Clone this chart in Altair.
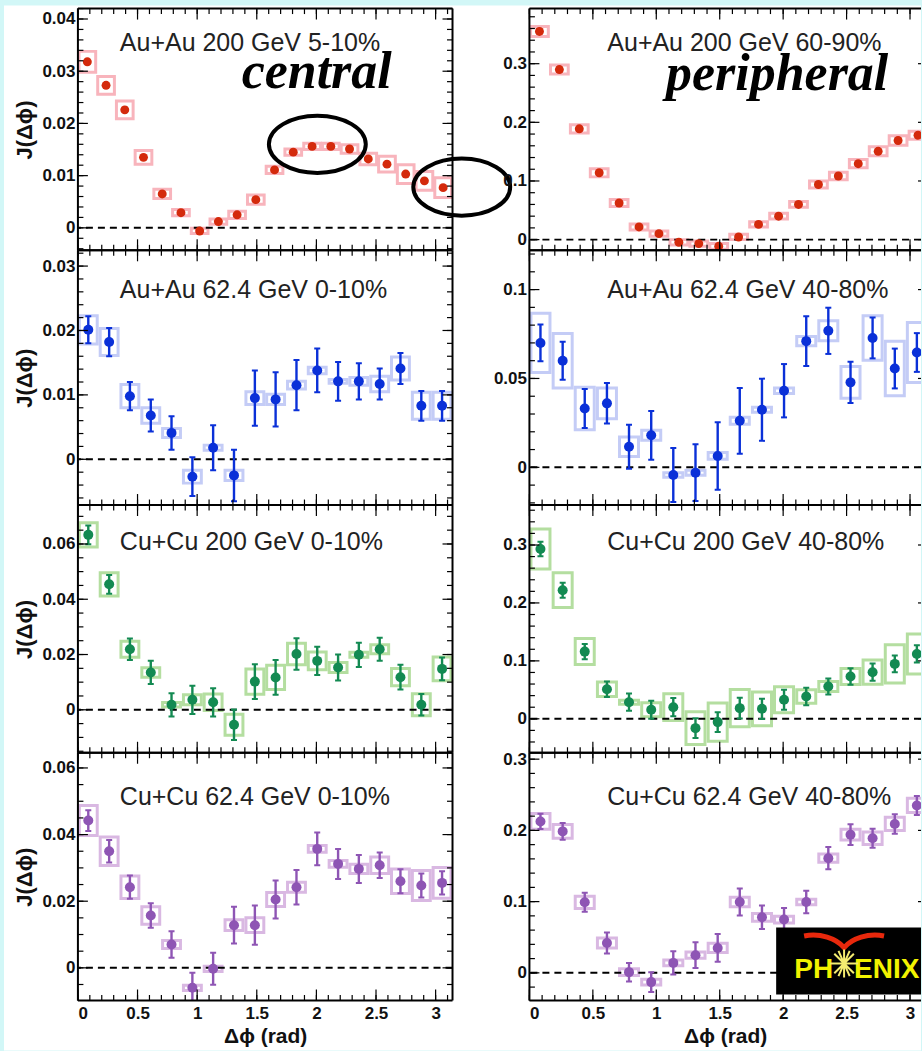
import altair as alt
import numpy as np
import pandas as pd

# ---------------- data ----------------
PHI_20 = [0.079, 0.236, 0.393, 0.550, 0.707, 0.864, 1.021, 1.178, 1.335, 1.492,
          1.649, 1.806, 1.964, 2.121, 2.278, 2.435, 2.592, 2.749, 2.906, 3.063]
PHI_18 = [0.087, 0.262, 0.436, 0.611, 0.785, 0.960, 1.134, 1.309, 1.484, 1.658,
          1.833, 2.007, 2.182, 2.356, 2.531, 2.705, 2.880, 3.054]

# Au+Au 200 GeV 5-10%
AA200C_Y = [0.0318, 0.0273, 0.0226, 0.0135, 0.0065, 0.0029, -0.0006, 0.0012, 0.0025, 0.0054,
            0.0111, 0.0145, 0.0156, 0.0156, 0.0151, 0.0132, 0.0122, 0.0103, 0.0090, 0.0077]
AA200C_STAT = [0.0004, 0.0004, 0.0004, 0.0003, 0.0003, 0.0003, 0.0003, 0.0003, 0.0003, 0.0003,
               0.0003, 0.0003, 0.0003, 0.0003, 0.0003, 0.0003, 0.0003, 0.0003, 0.0003, 0.0003]
AA200C_SYS = [0.0020, 0.0017, 0.0017, 0.0013, 0.0009, 0.0006, 0.0005, 0.0005, 0.0007, 0.0009,
              0.0007, 0.0006, 0.0006, 0.0006, 0.0008, 0.0011, 0.0015, 0.0018, 0.0018, 0.0019]

# Au+Au 200 GeV 60-90%
AA200P_Y = [0.355, 0.290, 0.189, 0.114, 0.0625, 0.0216, 0.0102, -0.0045, -0.0068, -0.0114,
            0.0045, 0.026, 0.040, 0.060, 0.094, 0.1085, 0.1295, 0.1506, 0.169, 0.178]
AA200P_STAT = [0.004, 0.004, 0.003, 0.003, 0.003, 0.003, 0.003, 0.003, 0.003, 0.003,
               0.003, 0.003, 0.003, 0.003, 0.003, 0.003, 0.003, 0.003, 0.003, 0.003]
AA200P_SYS = [0.0085, 0.0077, 0.0070, 0.0070, 0.0060, 0.0050, 0.0045, 0.0045, 0.0045, 0.0050,
              0.0045, 0.0045, 0.0050, 0.0050, 0.0060, 0.0065, 0.0070, 0.0077, 0.0080, 0.0070]

# Au+Au 62.4 GeV 0-10%
AA62C_Y = [0.0201, 0.0182, 0.0098, 0.0068, 0.0041, -0.0027, 0.0018, -0.0025, 0.0095, 0.0093,
           0.0115, 0.0138, 0.0121, 0.0121, 0.0117, 0.0141, 0.0083, 0.0083]
AA62C_STAT = [0.0021, 0.0022, 0.0022, 0.0025, 0.0026, 0.0030, 0.0035, 0.0040, 0.0043, 0.0042,
              0.0039, 0.0034, 0.0030, 0.0028, 0.0024, 0.0024, 0.0023, 0.0023]
AA62C_SYS = [0.0022, 0.0021, 0.0018, 0.0012, 0.0007, 0.0010, 0.0004, 0.0008, 0.0010, 0.0008,
             0.0006, 0.0005, 0.0003, 0.0006, 0.0012, 0.0018, 0.0021, 0.0021]

# Au+Au 62.4 GeV 40-80%
AA62P_Y = [0.070, 0.060, 0.0331, 0.036, 0.0116, 0.018, -0.0043, -0.003, 0.0064, 0.0262,
           0.0324, 0.0431, 0.071, 0.0768, 0.0478, 0.0728, 0.0556, 0.0646]
AA62P_STAT = [0.0103, 0.0107, 0.0110, 0.0114, 0.0124, 0.0137, 0.0152, 0.0160, 0.0190, 0.0185,
              0.0175, 0.0150, 0.0140, 0.0130, 0.0116, 0.0115, 0.0112, 0.0109]
AA62P_SYS = [0.0167, 0.0153, 0.0120, 0.0087, 0.0055, 0.0028, 0.0013, 0.0014, 0.0019, 0.0020,
             0.0014, 0.0015, 0.0026, 0.0056, 0.0089, 0.0125, 0.0153, 0.0169]

# Cu+Cu 200 GeV 0-10%
CC200C_Y = [0.0633, 0.0454, 0.0219, 0.0135, 0.0018, 0.0036, 0.0027, -0.0054, 0.0102, 0.0117,
            0.0202, 0.0177, 0.0153, 0.0199, 0.0219, 0.0118, 0.0018, 0.0148]
CC200C_STAT = [0.0034, 0.0034, 0.0039, 0.0042, 0.0042, 0.0051, 0.0051, 0.0055, 0.0063, 0.0063,
               0.0057, 0.0051, 0.0047, 0.0044, 0.0042, 0.0045, 0.0039, 0.0041]
CC200C_SYS = [0.0044, 0.0042, 0.0029, 0.0017, 0.0008, 0.0018, 0.0030, 0.0038, 0.0046, 0.0044,
              0.0039, 0.0032, 0.0018, 0.0009, 0.0016, 0.0031, 0.0040, 0.0043]

# Cu+Cu 200 GeV 40-80%
CC200P_Y = [0.293, 0.222, 0.116, 0.051, 0.0287, 0.0155, 0.0201, -0.0161, -0.0057, 0.0184,
            0.0172, 0.0328, 0.0385, 0.0557, 0.073, 0.0805, 0.0948, 0.112]
CC200P_STAT = [0.0126, 0.0130, 0.0130, 0.0135, 0.0150, 0.0155, 0.0158, 0.0170, 0.0170, 0.0180,
               0.0175, 0.0172, 0.0150, 0.0138, 0.0144, 0.0150, 0.0144, 0.0150]
CC200P_SYS = [0.0345, 0.0300, 0.0224, 0.0124, 0.0035, 0.0120, 0.0230, 0.0284, 0.0330, 0.0320,
              0.0290, 0.0224, 0.0115, 0.0086, 0.0138, 0.0210, 0.0330, 0.0345]

# Cu+Cu 62.4 GeV 0-10%
CC62C_Y = [0.0442, 0.0350, 0.0242, 0.0157, 0.0070, -0.0060, -0.0003, 0.0128, 0.0128, 0.0205,
           0.0242, 0.0357, 0.0312, 0.0297, 0.0308, 0.0260, 0.0247, 0.0255]
CC62C_STAT = [0.0031, 0.0034, 0.0035, 0.0037, 0.0040, 0.0045, 0.0048, 0.0055, 0.0059, 0.0057,
              0.0052, 0.0049, 0.0045, 0.0042, 0.0038, 0.0036, 0.0036, 0.0035]
CC62C_SYS = [0.0045, 0.0043, 0.0034, 0.0026, 0.0012, 0.0008, 0.0008, 0.0016, 0.0022, 0.0021,
             0.0015, 0.0010, 0.0010, 0.0014, 0.0025, 0.0037, 0.0045, 0.0046]

# Cu+Cu 62.4 GeV 40-80%
CC62P_Y = [0.2126, 0.1986, 0.099, 0.042, 0.001, -0.013, 0.014, 0.0248, 0.035, 0.0995,
           0.078, 0.0748, 0.0995, 0.161, 0.194, 0.189, 0.209, 0.235]
CC62P_STAT = [0.0107, 0.0117, 0.0133, 0.0147, 0.0130, 0.0140, 0.0164, 0.0180, 0.0194, 0.0190,
              0.0166, 0.0164, 0.0159, 0.0156, 0.0145, 0.0133, 0.0136, 0.0133]
CC62P_SYS = [0.0110, 0.0098, 0.0086, 0.0070, 0.0047, 0.0040, 0.0042, 0.0044, 0.0065, 0.0068,
             0.0054, 0.0047, 0.0040, 0.0058, 0.0075, 0.0089, 0.0093, 0.0100]

LABELS = ["Au+Au 200 GeV 5-10%", "Au+Au 200 GeV 60-90%",
          "Au+Au 62.4 GeV 0-10%", "Au+Au 62.4 GeV 40-80%",
          "Cu+Cu 200 GeV 0-10%", "Cu+Cu 200 GeV 40-80%",
          "Cu+Cu 62.4 GeV 0-10%", "Cu+Cu 62.4 GeV 40-80%"]

X_MAJOR = [0, 0.5, 1, 1.5, 2, 2.5, 3]

# annotation positions (row 1, central panel data coordinates)
ELLIPSE_X = [2.008, 3.219]
ELLIPSE_Y = [0.0160, 0.0078]

# ---------------- styling ----------------
BG = "#d2f7f7"
FONT = "Liberation Sans"
RED, PINK = "#d42a0c", "#f8b4bc"
BLUE, LBLUE = "#0a30d8", "#c4ccf6"
GREEN, LGREEN = "#138a52", "#b4dea0"
PURPLE, LPURPLE = "#8e55b4", "#d9b8e2"

WL, WR = 375, 392
GAP = 77
HEIGHTS = [242, 255, 248, 248]
XDOM_L = [0, 3.1416]
XDOM_R = [0, 3.0866]
LABEL_Y = [34, 40, 37, 44]

PANELS = [
    dict(row=0, col=0, x=PHI_20, y=AA200C_Y, st=AA200C_STAT, sy=AA200C_SYS, hw=0.07, pc=RED, bc=PINK,
         ydom=[-0.0043, 0.042], ymaj=[0, 0.01, 0.02, 0.03, 0.04], ystep=0.002, msize=80, ew=1.5),
    dict(row=0, col=1, x=PHI_20, y=AA200P_Y, st=AA200P_STAT, sy=AA200P_SYS, hw=0.07, pc=RED, bc=PINK,
         ydom=[-0.0182, 0.394], ymaj=[0, 0.1, 0.2, 0.3], ystep=0.02, msize=80, ew=1.5),
    dict(row=1, col=0, x=PHI_18, y=AA62C_Y, st=AA62C_STAT, sy=AA62C_SYS, hw=0.075, pc=BLUE, bc=LBLUE,
         ydom=[-0.0071, 0.03245], ymaj=[0, 0.01, 0.02, 0.03], ystep=0.002, msize=100, ew=2.4),
    dict(row=1, col=1, x=PHI_18, y=AA62P_Y, st=AA62P_STAT, sy=AA62P_SYS, hw=0.075, pc=BLUE, bc=LBLUE,
         ydom=[-0.0212, 0.1221], ymaj=[0, 0.05, 0.1], ystep=0.01, msize=100, ew=2.4),
    dict(row=2, col=0, x=PHI_18, y=CC200C_Y, st=CC200C_STAT, sy=CC200C_SYS, hw=0.075, pc=GREEN, bc=LGREEN,
         ydom=[-0.01555, 0.0741], ymaj=[0, 0.02, 0.04, 0.06], ystep=0.005, msize=100, ew=2.4),
    dict(row=2, col=1, x=PHI_18, y=CC200P_Y, st=CC200P_STAT, sy=CC200P_SYS, hw=0.075, pc=GREEN, bc=LGREEN,
         ydom=[-0.0586, 0.369], ymaj=[0, 0.1, 0.2, 0.3], ystep=0.02, msize=100, ew=2.4),
    dict(row=3, col=0, x=PHI_18, y=CC62C_Y, st=CC62C_STAT, sy=CC62C_SYS, hw=0.075, pc=PURPLE, bc=LPURPLE,
         ydom=[-0.0098, 0.06456], ymaj=[0, 0.02, 0.04, 0.06], ystep=0.005, msize=100, ew=2.4),
    dict(row=3, col=1, x=PHI_18, y=CC62P_Y, st=CC62P_STAT, sy=CC62P_SYS, hw=0.075, pc=PURPLE, bc=LPURPLE,
         ydom=[-0.0388, 0.309], ymaj=[0, 0.1, 0.2, 0.3], ystep=0.02, msize=100, ew=2.4),
]

ELLIPSE_PATH = ("M 1 0 C 1 0.3258 0.5523 0.59 0 0.59 C -0.5523 0.59 -1 0.3258 -1 0 "
                "C -1 -0.3258 -0.5523 -0.59 0 -0.59 C 0.5523 -0.59 1 -0.3258 1 0 Z")
WING_PATH = "M -1 -0.14 C -0.6 -0.22 -0.2 -0.08 0 0.15 C 0.2 -0.08 0.6 -0.22 1 -0.14"
STAR_PATH = ("M -1 0 L 1 0 M 0 -1 L 0 1 M -0.7 -0.7 L 0.7 0.7 M -0.7 0.7 L 0.7 -0.7 "
             "M -0.4 -0.9 L 0.4 0.9 M 0.4 -0.9 L -0.4 0.9")


def ticks_between(lo, hi, step):
    start = np.ceil(lo / step - 1e-9) * step
    vals = np.arange(start, hi + 1e-12, step)
    return [round(float(v), 6) for v in vals if lo - 1e-12 <= v <= hi + 1e-12]


def one():
    return pd.DataFrame({"a": [0]})


def make_panel(p, label):
    row, col = p["row"], p["col"]
    W = WL if col == 0 else WR
    H = HEIGHTS[row]
    xdom = XDOM_L if col == 0 else XDOM_R
    bottom = row == 3
    xsc = alt.Scale(domain=xdom, zero=False, nice=False)
    ysc = alt.Scale(domain=p["ydom"], zero=False, nice=False)

    yax_kw = dict(values=p["ymaj"], format="~g", ticks=False, tickSize=0, domain=False, grid=False,
                  labelPadding=3, labelFont=FONT, labelFontSize=17, labelFontWeight="bold",
                  labelColor="#111", zindex=2)
    if col == 0:
        yax = alt.Axis(title="J(Δϕ)", titleX=-53, titleY=H / 2, titleBaseline="middle",
                       titleFont=FONT, titleFontSize=22, titleFontWeight="bold", titleColor="#111",
                       **yax_kw)
    else:
        yax = alt.Axis(title=None, **yax_kw)
    if bottom:
        xax = alt.Axis(values=X_MAJOR, format="~g", ticks=False, tickSize=0, domain=False, grid=False,
                       labelPadding=5, labelFont=FONT, labelFontSize=17, labelFontWeight="bold",
                       labelColor="#111", title="Δϕ  (rad)", titleX=W / 2, titleY=36,
                       titleBaseline="middle", titleFont=FONT, titleFontSize=21,
                       titleFontWeight="bold", titleColor="#111", zindex=2)
    else:
        xax = None

    def XE(f):
        return alt.X(f, type="quantitative", scale=xsc, axis=xax)

    def YE(f):
        return alt.Y(f, type="quantitative", scale=ysc, axis=yax)

    x = np.array(p["x"])
    y = np.array(p["y"])
    st = np.array(p["st"])
    sy = np.array(p["sy"])
    df = pd.DataFrame(dict(x=x, y=y, lo=y - st, hi=y + st, y0=y - sy, y1=y + sy,
                           x0=x - p["hw"], x1=x + p["hw"]))
    base = alt.Chart(df)
    layers = []

    if row == 0 and col == 0:
        total_h = sum(HEIGHTS)
        layers.append(alt.Chart(one()).mark_rect(color="white").encode(
            x=alt.value(-74), x2=alt.value(WL + GAP + WR), y=alt.value(-3), y2=alt.value(total_h + 50)))

    layers.append(base.mark_rect(filled=False, color=p["bc"], strokeWidth=3, clip=True).encode(
        x=XE("x0"), x2="x1", y=YE("y0"), y2="y1"))
    layers.append(alt.Chart(pd.DataFrame({"z": [0]})).mark_rule(
        color="black", strokeWidth=2, strokeDash=[7, 5]).encode(y=YE("z")))
    layers.append(base.mark_rule(color=p["pc"], strokeWidth=p["ew"], clip=True).encode(
        x=XE("x"), y=YE("lo"), y2="hi"))
    for f in ("lo", "hi"):
        layers.append(base.mark_tick(orient="horizontal", size=6, thickness=2, color=p["pc"],
                                     opacity=1, clip=True).encode(x=XE("x"), y=YE(f)))
    layers.append(base.mark_circle(size=p["msize"], color=p["pc"], opacity=1, clip=True).encode(
        x=XE("x"), y=YE("y")))

    # inward ticks
    ymaj = pd.DataFrame({"v": p["ymaj"]})
    ymin = pd.DataFrame({"v": ticks_between(p["ydom"][0], p["ydom"][1], p["ystep"])})
    xmaj = pd.DataFrame({"v": X_MAJOR})
    xmin = pd.DataFrame({"v": ticks_between(xdom[0], xdom[1], 0.1)})
    tk = dict(color="black", strokeWidth=1.2)
    layers.append(alt.Chart(ymaj).mark_rule(**tk).encode(y=YE("v"), x=alt.value(0), x2=alt.value(10)))
    layers.append(alt.Chart(ymin).mark_rule(**tk).encode(y=YE("v"), x=alt.value(0), x2=alt.value(5.5)))
    if col == 0:
        layers.append(alt.Chart(ymaj).mark_rule(**tk).encode(y=YE("v"), x=alt.value(W - 10), x2=alt.value(W)))
        layers.append(alt.Chart(ymin).mark_rule(**tk).encode(y=YE("v"), x=alt.value(W - 5.5), x2=alt.value(W)))
    else:
        layers.append(alt.Chart(ymaj).mark_rule(**tk).encode(y=YE("v"), x=alt.value(W - 3), x2=alt.value(W)))
    layers.append(alt.Chart(xmaj).mark_rule(**tk).encode(x=XE("v"), y=alt.value(H), y2=alt.value(H - 11)))
    layers.append(alt.Chart(xmin).mark_rule(**tk).encode(x=XE("v"), y=alt.value(H), y2=alt.value(H - 5.5)))
    layers.append(alt.Chart(xmaj).mark_rule(**tk).encode(x=XE("v"), y=alt.value(0), y2=alt.value(11)))
    layers.append(alt.Chart(xmin).mark_rule(**tk).encode(x=XE("v"), y=alt.value(0), y2=alt.value(5.5)))

    # frame
    fr = dict(color="black", strokeWidth=2)
    layers.append(alt.Chart(one()).mark_rule(**fr).encode(x=alt.value(0), y=alt.value(0), y2=alt.value(H)))
    layers.append(alt.Chart(one()).mark_rule(**fr).encode(y=alt.value(0), x=alt.value(0), x2=alt.value(W)))
    layers.append(alt.Chart(one()).mark_rule(**fr).encode(y=alt.value(H), x=alt.value(0), x2=alt.value(W)))
    if col == 0:
        layers.append(alt.Chart(one()).mark_rule(**fr).encode(x=alt.value(W), y=alt.value(0), y2=alt.value(H)))

    # panel label
    layers.append(alt.Chart(pd.DataFrame({"t": [label]})).mark_text(
        align="left", baseline="middle", font=FONT, fontSize=25, color="#222").encode(
        x=alt.value(42 if col == 0 else 78), y=alt.value(LABEL_Y[row]), text="t:N"))

    if row == 0 and col == 0:
        layers.append(alt.Chart(pd.DataFrame({"t": ["central"]})).mark_text(
            align="center", baseline="alphabetic", font="Liberation Serif", fontSize=52,
            fontStyle="italic", fontWeight="bold", color="black").encode(
            x=alt.value(239), y=alt.value(80), text="t:N"))
        edf = pd.DataFrame({"x": ELLIPSE_X, "y": ELLIPSE_Y})
        layers.append(alt.Chart(edf).mark_point(shape=ELLIPSE_PATH, size=9409, filled=False,
                                                strokeWidth=4, color="black", opacity=1).encode(
            x=XE("x"), y=YE("y")))
    if row == 0 and col == 1:
        layers.append(alt.Chart(pd.DataFrame({"t": ["peripheral"]})).mark_text(
            align="center", baseline="alphabetic", font="Liberation Serif", fontSize=52,
            fontStyle="italic", fontWeight="bold", color="black").encode(
            x=alt.value(248), y=alt.value(82), text="t:N"))
    if row == 3 and col == 1:
        layers.append(alt.Chart(one()).mark_rect(color="black").encode(
            x=alt.value(247), x2=alt.value(W), y=alt.value(175), y2=alt.value(242)))
        layers.append(alt.Chart(one()).mark_point(shape=WING_PATH, size=6400, filled=False,
                                                  strokeWidth=5, color="#e8280c", opacity=1).encode(
            x=alt.value(315), y=alt.value(189)))
        layers.append(alt.Chart(pd.DataFrame({"t": ["PH"]})).mark_text(
            align="right", baseline="alphabetic", font=FONT, fontSize=28, fontWeight="bold",
            color="#f2f200").encode(x=alt.value(304), y=alt.value(225), text="t:N"))
        layers.append(alt.Chart(pd.DataFrame({"t": ["ENIX"]})).mark_text(
            align="left", baseline="alphabetic", font=FONT, fontSize=28, fontWeight="bold",
            color="#f2f200").encode(x=alt.value(325), y=alt.value(225), text="t:N"))
        layers.append(alt.Chart(one()).mark_point(shape=STAR_PATH, size=784, filled=False,
                                                  strokeWidth=2, color="#f4ec70", opacity=1).encode(
            x=alt.value(315), y=alt.value(211)))

    return alt.layer(*layers).properties(width=W, height=H)


charts = [make_panel(p, LABELS[i]) for i, p in enumerate(PANELS)]

chart = alt.concat(*charts, columns=2, spacing={"row": 0, "column": GAP}, bounds="flush").properties(
    background=BG, padding={"left": 4, "top": 5, "right": 0, "bottom": 0}
).configure_view(strokeWidth=0).configure_axis(zindex=2)

chart.save("out.html", embed_options={"renderer": "svg", "actions": False})
